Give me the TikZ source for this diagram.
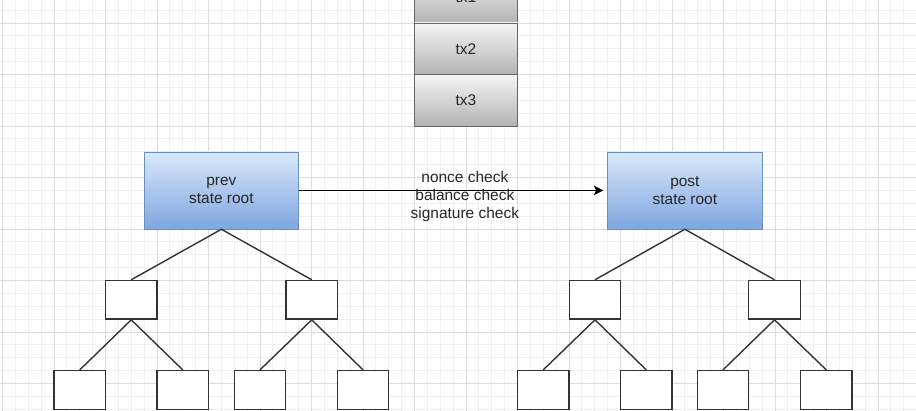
\documentclass[tikz,border=0pt]{standalone}
\usepackage{fontspec}
\setmainfont{Liberation Sans}
\usetikzlibrary{arrows.meta}

\definecolor{bluetop}{HTML}{DAE8FC}
\definecolor{bluebot}{HTML}{7EA6E0}
\definecolor{blueline}{HTML}{6C8EBF}
\definecolor{graytop}{HTML}{F5F5F5}
\definecolor{graybot}{HTML}{B3B3B3}
\definecolor{grayline}{HTML}{666666}
\definecolor{minorgrid}{HTML}{F0F0F0}
\definecolor{majorgrid}{HTML}{DCDCDC}
\definecolor{inkline}{HTML}{333333}

\tikzset{
  txbox/.style={draw=grayline, top color=graytop, bottom color=graybot, minimum width=77.25pt, minimum height=38.625pt, inner sep=0pt},
  rootbox/.style={draw=blueline, top color=bluetop, bottom color=bluebot, minimum width=115.9pt, minimum height=57.9pt, inner sep=0pt, align=center},
  leafbox/.style={draw=inkline, fill=white, minimum width=38.6pt, minimum height=29pt, inner sep=0pt, line width=1.05pt},
  edge/.style={draw=inkline, line width=1.05pt}
}

\begin{document}
\begin{tikzpicture}[x=0.75pt, y=-0.75pt, font=\fontsize{11.6}{13.5}\selectfont, text=black!85]
            \useasboundingbox (0,0) rectangle (916,410);
            \clip (0,0) rectangle (916,410);
            \begin{scope}[shift={(2.5,23)}]
                \draw[minorgrid, line width=0.6pt, step=9.65625pt] (-20,420) grid (940,-40);
                \draw[majorgrid, line width=0.6pt, step=38.625pt] (-20,420) grid (940,-40);
            \end{scope}
            \node[txbox] (tx1) at (466,-2.75) {tx1};
            \node[txbox] (tx2) at (466,48.75) {tx2};
            \node[txbox] (tx3) at (466,100.25) {tx3};
            \node[rootbox] (prev) at (221.4,190.4) {prev\\state root};
            \node[rootbox] (post) at (684.9,190.4) {post\\state root};
            \node[leafbox] (pa) at (131.25,299.8) {};
            \node[leafbox] (pb) at (311.75,299.8) {};
            \node[leafbox] (paa) at (79.75,389.9) {};
            \node[leafbox] (pab) at (182.75,389.9) {};
            \node[leafbox] (pba) at (260,389.9) {};
            \node[leafbox] (pbb) at (363,389.9) {};
            \node[leafbox] (qa) at (595,299.8) {};
            \node[leafbox] (qb) at (774.5,299.8) {};
            \node[leafbox] (qaa) at (543.25,389.9) {};
            \node[leafbox] (qab) at (646.25,389.9) {};
            \node[leafbox] (qba) at (723,389.9) {};
            \node[leafbox] (qbb) at (826.25,389.9) {};
            \draw[edge] (pa.north) -- (prev.south) -- (pb.north);
            \draw[edge] (paa.north) -- (pa.south) -- (pab.north);
            \draw[edge] (pba.north) -- (pb.south) -- (pbb.north);
            \draw[edge] (qa.north) -- (post.south) -- (qb.north);
            \draw[edge] (qaa.north) -- (qa.south) -- (qab.north);
            \draw[edge] (qba.north) -- (qb.south) -- (qbb.north);
            \draw[edge, draw=black, -{Stealth[length=7pt, width=7pt, inset=1.5pt]}] (prev.east) -- ([xshift=-3pt]post.west)node[pos=0.545, yshift=-4.2pt, align=center]{nonce check\\balance check\\signature check};
        \end{tikzpicture}
\end{document}
